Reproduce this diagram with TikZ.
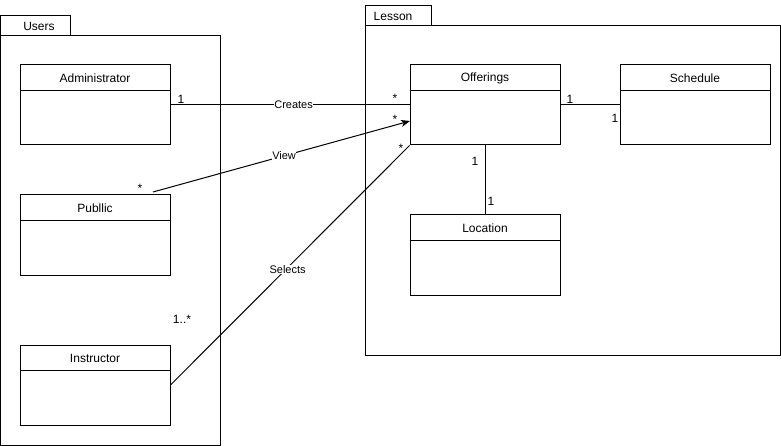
\documentclass[tikz,border=0pt]{standalone}
\usepackage{fontspec}
\setmainfont{Liberation Sans}
\usetikzlibrary{arrows.meta,positioning}
\begin{document}
\begin{tikzpicture}[x=1pt,y=-1pt,line width=1pt,
  classbox/.style={draw,minimum width=150pt,minimum height=80pt,inner sep=0pt},
  pkgbody/.style={draw,anchor=north west,inner sep=0pt},
  title/.style={font=\fontsize{12}{14}\selectfont,inner sep=0pt},
  elabel/.style={font=\fontsize{11}{13}\selectfont,fill=white,inner sep=0.5pt},
  mult/.style={font=\fontsize{12}{14}\selectfont,inner sep=0pt},
  arr/.style={-{Stealth[length=9pt,width=7pt,inset=2.5pt]}}]
\useasboundingbox (0,0) rectangle (781,446);
% packages
\node[pkgbody,minimum width=70pt,minimum height=20pt] (userstab) at (0,15) {};
\node[title] (userslbl) at (39,26) {Users};
\node[pkgbody,minimum width=220pt,minimum height=410pt] (users) at (0,35) {};
\node[pkgbody,minimum width=66pt,minimum height=20pt] (lessontab) at (365,5) {};
\node[title] (lessonlbl) at (393,16) {Lesson};
\node[pkgbody,minimum width=415pt,minimum height=330pt] (lesson) at (365,25) {};
% classes
\foreach \n/\t/\x/\y in {admin/Administrator/95/105, public/Publlic/95/235, instr/Instructor/95/385,
  off/Offerings/485/105, sched/Schedule/695/105, loc/Location/485/255}{
  \node[classbox] (\n) at (\x,\y) {};
  \draw ([yshift=-26pt]\n.north west) -- ([yshift=-26pt]\n.north east);
  \node[title] (\n-t) at ([yshift=-14pt]\n.north) {\t};
}
% connectors
\draw (admin.east) -- node[elabel,pos=0.515] (creates) {Creates} (off.west);
\coordinate (viewstart) at (153,192);
\coordinate (viewend) at (410,121);
\draw[arr] (viewstart) -- node[elabel,pos=0.51] (view) {View} (viewend);
\draw (instr.east) -- node[elabel,pos=0.49,yshift=-2pt] (selects) {Selects} (off.south west);
\draw (off.east) -- (sched.west);
\draw (off.south) -- (loc.north);
% multiplicities
\node[mult] (m1) at (181,99) {1};
\node[mult] (m2) at (395,98) {*};
\node[mult] (m3) at (395,119) {*};
\node[mult] (m4) at (140,188) {*};
\node[mult] (m5) at (401,148) {*};
\node[mult] (m6) at (182,319) {1..*};
\node[mult] (m7) at (570,99) {1};
\node[mult] (m8) at (615,118) {1};
\node[mult] (m9) at (475,161) {1};
\node[mult] (m10) at (491,201) {1};
\end{tikzpicture}
\end{document}
